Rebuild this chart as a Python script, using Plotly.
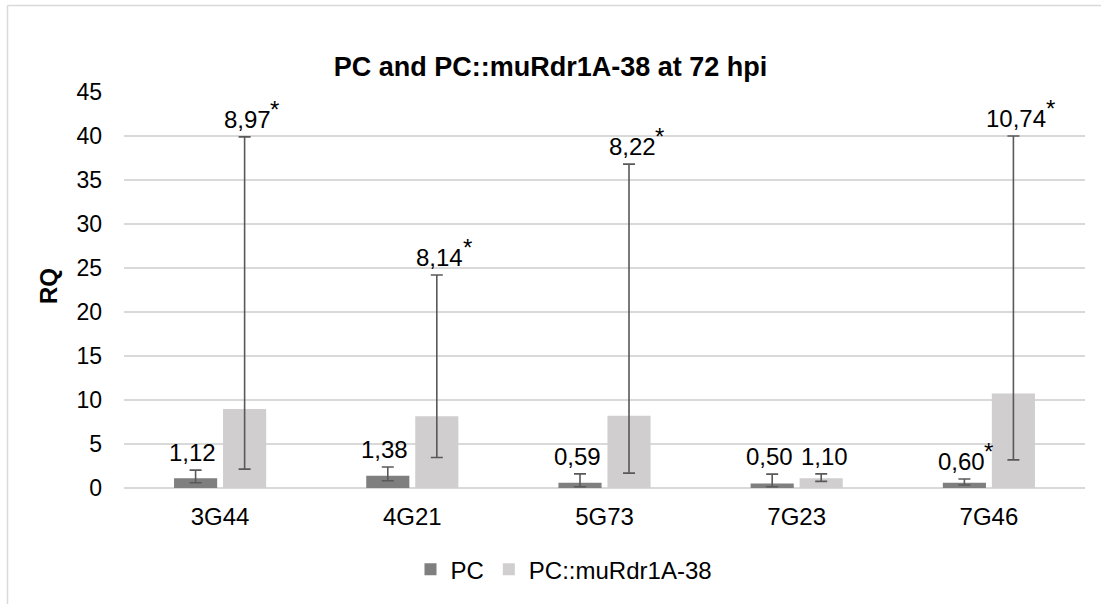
import plotly.graph_objects as go

# Relative quantification per gene
genes = ["3G44", "4G21", "5G73", "7G23", "7G46"]

pc_rq = [1.12, 1.38, 0.59, 0.50, 0.60]
pc_err_plus = [0.91, 1.00, 1.02, 1.08, 0.42]
pc_err_minus = [0.52, 0.56, 0.44, 0.35, 0.26]
pc_star = [False, False, False, False, True]

mu_rq = [8.97, 8.14, 8.22, 1.10, 10.74]
mu_err_plus = [30.93, 16.06, 28.58, 0.51, 29.26]
mu_err_minus = [6.82, 4.68, 6.53, 0.35, 7.54]
mu_star = [True, True, True, False, True]

y_ticks = [0, 5, 10, 15, 20, 25, 30, 35, 40, 45]

DARK = "#7f7f7f"
LIGHT = "#d0cece"
ERR = "#595959"
GRID = "#d9d9d9"
FONT = "Liberation Sans, Arial, sans-serif"
LABEL_SIZE = 24

W, H = 1101, 604
ML, MR, MT, MB = 124, 16, 92, 114
PW = W - ML - MR
PH = H - MT - MB

fig = go.Figure()

for name, vals, ep, em, color in [
    ("PC", pc_rq, pc_err_plus, pc_err_minus, DARK),
    ("PC::muRdr1A-38", mu_rq, mu_err_plus, mu_err_minus, LIGHT),
]:
    fig.add_trace(go.Bar(
        name=name, x=genes, y=vals, marker_color=color, marker_line_width=0,
        error_y=dict(type="data", symmetric=False, array=ep, arrayminus=em,
                     color=ERR, thickness=1.6, width=6),
    ))


def fmt(v):
    return f"{v:.2f}".replace(".", ",")


def text_width(s, size):
    # approximate Arial advance widths for digits and comma
    return sum((0.278 if c == "," else 0.556) * size for c in s)


# value labels above the error bar caps, with a raised significance star
for vals, ep, stars, shift in [(pc_rq, pc_err_plus, pc_star, -27.5),
                              (mu_rq, mu_err_plus, mu_star, 27.5)]:
    for g, v, e, s in zip(genes, vals, ep, stars):
        txt = fmt(v)
        fig.add_annotation(x=g, y=v + e, xref="x", yref="y", text=txt,
                           showarrow=False, xanchor="center", yanchor="bottom",
                           xshift=shift, yshift=2,
                           font=dict(family=FONT, size=LABEL_SIZE, color="#000000"))
        if s:
            fig.add_annotation(x=g, y=v + e, xref="x", yref="y", text="*",
                               showarrow=False, xanchor="center", yanchor="bottom",
                               xshift=shift + text_width(txt, LABEL_SIZE) / 2 + 4,
                               yshift=12,
                               font=dict(family=FONT, size=LABEL_SIZE, color="#000000"))

# axis title
fig.add_annotation(x=(48 - ML) / PW, y=(H - MB - 287) / PH, xref="paper", yref="paper",
                   text="<b>RQ</b>", textangle=-90, showarrow=False,
                   xanchor="center", yanchor="middle",
                   font=dict(family=FONT, size=24, color="#000000"))

# chart area border (left and top edges)
fig.add_shape(type="line", xref="paper", yref="paper",
              x0=(7.5 - ML) / PW, x1=(7.5 - ML) / PW,
              y0=(H - MB - 5) / PH, y1=(H - MB - 640) / PH,
              line=dict(color=GRID, width=1.5))
fig.add_shape(type="line", xref="paper", yref="paper",
              x0=(7.5 - ML) / PW, x1=(1130 - ML) / PW,
              y0=(H - MB - 5) / PH, y1=(H - MB - 5) / PH,
              line=dict(color=GRID, width=1.5))

fig.update_layout(
    width=W, height=H,
    margin=dict(l=ML, r=MR, t=MT, b=MB),
    paper_bgcolor="white", plot_bgcolor="white",
    barmode="group", bargap=0.49, bargroupgap=0.12,
    title=dict(text="<b>PC and PC::muRdr1A-38 at 72 hpi</b>", x=0.5, xanchor="center",
               xref="container", y=1 - 67 / H, yanchor="middle", yref="container",
               font=dict(family=FONT, size=27, color="#000000")),
    font=dict(family=FONT, size=24, color="#000000"),
    showlegend=True,
    legend=dict(orientation="h", x=(564 - ML) / PW, xanchor="center",
                y=(H - MB - 572) / PH, yanchor="middle",
                font=dict(family=FONT, size=24, color="#000000"),
                itemwidth=30, traceorder="normal"),
    xaxis=dict(showgrid=False, showline=False, ticks="", ticklabelstandoff=12,
               tickfont=dict(family=FONT, size=24, color="#000000")),
    yaxis=dict(range=[0, 45], tickvals=y_ticks, showgrid=True, gridcolor=GRID,
               gridwidth=1.5, zeroline=True, zerolinecolor=GRID, zerolinewidth=1.5,
               showline=False, ticks="", ticklabelstandoff=21,
               tickfont=dict(family=FONT, size=23, color="#000000")),
)

fig.write_html("out.html")
